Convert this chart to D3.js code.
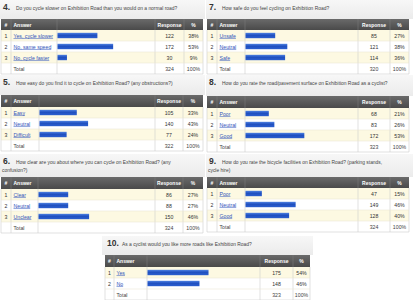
<!DOCTYPE html>
<html>
<head>
<meta charset="utf-8">
<script src="https://cdn.jsdelivr.net/npm/d3@7"></script>
<style>
  body { margin: 0; background: #fff; }
  svg { display: block; }
</style>
</head>
<body>
<svg id="chart" width="413" height="300"></svg>
<script>
// survey answers
const q4Answers = ["Yes, cycle slower", "No, same speed", "No, cycle faster"];
const q4Counts = [122, 172, 30];
const q4Pcts = [38, 53, 9];
const q4Total = 324;

const q7Answers = ["Unsafe", "Neutral", "Safe"];
const q7Counts = [85, 121, 114];
const q7Pcts = [27, 38, 36];
const q7Total = 320;

const q5Answers = ["Easy", "Neutral", "Difficult"];
const q5Counts = [105, 140, 77];
const q5Pcts = [33, 43, 24];
const q5Total = 322;

const q8Answers = ["Poor", "Neutral", "Good"];
const q8Counts = [68, 83, 172];
const q8Pcts = [21, 26, 53];
const q8Total = 323;

const q6Answers = ["Clear", "Neutral", "Unclear"];
const q6Counts = [86, 88, 150];
const q6Pcts = [27, 27, 46];
const q6Total = 324;

const q9Answers = ["Poor", "Neutral", "Good"];
const q9Counts = [47, 149, 128];
const q9Pcts = [15, 46, 40];
const q9Total = 324;

const q10Answers = ["Yes", "No"];
const q10Counts = [175, 148];
const q10Pcts = [54, 46];
const q10Total = 323;

const questionNums = ["4.", "7.", "5.", "8.", "6.", "9.", "10."];
const questionTexts = [
  ["Do you cycle slower on Exhibition Road than you would on a normal road?"],
  ["How safe do you feel cycling on Exhibition Road?"],
  ["How easy do you find it to cycle on Exhibition Road? (any obstructions?)"],
  ["How do you rate the road/pavement surface on Exhibition Road as a cyclist?"],
  ["How clear are you about where you can cycle on Exhibition Road? (any", "confusion?)"],
  ["How do you rate the bicycle facilities on Exhibition Road? (parking stands,", "cycle hire)"],
  ["As a cyclist would you like more roads like Exhibition Road?"]
];
const headerLabels = ["#", "Answer", "", "Response", "%"];

let svg = d3.select("#chart");
let font = "'Liberation Sans', Arial, sans-serif";

let defs = svg.append("defs");
let barGrad = defs.append("linearGradient").attr("id", "barGrad")
  .attr("x1", 0).attr("y1", 0).attr("x2", 0).attr("y2", 1);
barGrad.append("stop").attr("offset", "0%").attr("stop-color", "#4f82e2");
barGrad.append("stop").attr("offset", "45%").attr("stop-color", "#1f4fbf");
barGrad.append("stop").attr("offset", "100%").attr("stop-color", "#2c5fcf");
let headGrad = defs.append("linearGradient").attr("id", "headGrad")
  .attr("x1", 0).attr("y1", 0).attr("x2", 0).attr("y2", 1);
headGrad.append("stop").attr("offset", "0%").attr("stop-color", "#6a6a6a");
headGrad.append("stop").attr("offset", "100%").attr("stop-color", "#4a4a4a");
let titleGrad = defs.append("linearGradient").attr("id", "titleGrad")
  .attr("x1", 0).attr("y1", 0).attr("x2", 0).attr("y2", 1);
titleGrad.append("stop").attr("offset", "0%").attr("stop-color", "#f7f7f7");
titleGrad.append("stop").attr("offset", "100%").attr("stop-color", "#ebebeb");

// layout of each panel: cols = column edges in px
let panels = [
  {left: 0, right: 205, top: 0, headY: 19, headH: 11, rowH: 11, cols: [1, 11, 57, 155, 184, 203], k: 1.05,
   answers: q4Answers, counts: q4Counts, pcts: q4Pcts, total: q4Total},
  {left: 206, right: 413, top: 0, headY: 19, headH: 11, rowH: 11, cols: [207, 217, 245, 358, 390, 409], k: 1.1,
   answers: q7Answers, counts: q7Counts, pcts: q7Pcts, total: q7Total},
  {left: 0, right: 205, top: 75, headY: 95, headH: 12, rowH: 11, cols: [1, 11, 39, 155, 183, 203], k: 1.13,
   answers: q5Answers, counts: q5Counts, pcts: q5Pcts, total: q5Total},
  {left: 206, right: 413, top: 75, headY: 96, headH: 12, rowH: 11, cols: [207, 217, 245, 358, 390, 409], k: 1.11,
   answers: q8Answers, counts: q8Counts, pcts: q8Pcts, total: q8Total},
  {left: 0, right: 205, top: 154, headY: 177, headH: 12, rowH: 11, cols: [1, 11, 38, 155, 183, 203], k: 1.1,
   answers: q6Answers, counts: q6Counts, pcts: q6Pcts, total: q6Total},
  {left: 206, right: 413, top: 154, headY: 177, headH: 11, rowH: 11, cols: [207, 217, 245, 358, 390, 409], k: 1.09,
   answers: q9Answers, counts: q9Counts, pcts: q9Pcts, total: q9Total},
  {left: 102, right: 313, top: 236, headY: 255, headH: 12, rowH: 11, cols: [105, 114, 147, 260, 293, 310], k: 1.13,
   answers: q10Answers, counts: q10Counts, pcts: q10Pcts, total: q10Total}
];

panels.forEach(function(p, i) {
  let g = svg.append("g");
  let cols = p.cols;
  let n = p.answers.length + 1;

  // title strip
  g.append("rect")
    .attr("x", p.left).attr("y", p.top)
    .attr("width", p.right - p.left).attr("height", p.headY - p.top)
    .attr("fill", "url(#titleGrad)");

  let lines = questionTexts[i];
  let numY = p.top + 10;
  g.append("text")
    .attr("x", cols[0] + 2).attr("y", numY)
    .text(questionNums[i])
    .style("font-family", font).style("font-size", "8.5px").style("font-weight", "bold")
    .style("fill", "#333");
  lines.forEach(function(l, j) {
    g.append("text")
      .attr("x", j == 0 ? cols[0] + (questionNums[i].length > 2 ? 17 : 15) : cols[0] + 1)
      .attr("y", numY - 0.5 + j * 8)
      .text(l)
      .style("font-family", font).style("font-size", "4.9px")
      .style("fill", "#444");
  });

  // header row
  g.append("rect")
    .attr("x", cols[0]).attr("y", p.headY)
    .attr("width", cols[5] - cols[0]).attr("height", p.headH)
    .attr("fill", "url(#headGrad)");
  headerLabels.forEach(function(h, j) {
    if (h == "") return;
    let centered = (j != 1);
    g.append("text")
      .attr("x", centered ? (cols[j] + cols[j + 1]) / 2 : cols[j] + 2.5)
      .attr("y", p.headY + p.headH / 2 + 2)
      .attr("text-anchor", centered ? "middle" : "start")
      .text(h)
      .style("font-family", font).style("font-size", "5px").style("font-weight", "bold")
      .style("fill", "#fff");
  });
  for (let j = 1; j < 5; j++) {
    g.append("line")
      .attr("x1", cols[j]).attr("x2", cols[j])
      .attr("y1", p.headY).attr("y2", p.headY + p.headH)
      .attr("stroke", "#7a7a7a").attr("stroke-width", 0.6);
  }

  // body rows
  let rowIdx = d3.range(n);
  let y = d3.scaleBand()
    .domain(rowIdx)
    .range([p.headY + p.headH, p.headY + p.headH + p.rowH * n]);
  let x = d3.scaleLinear()
    .domain([0, 100])
    .range([cols[2] + 0.5, cols[2] + 0.5 + 100 * p.k]);

  g.selectAll(".rowBg")
    .data(rowIdx)
    .enter()
    .append("rect")
    .attr("x", cols[0]).attr("y", d => y(d))
    .attr("width", cols[5] - cols[0]).attr("height", y.bandwidth())
    .attr("fill", d => (d % 2 == 0 && d < n - 1) ? "#fdf9e2" : "#ffffff");

  // grid lines
  let bodyTop = y.range()[0], bodyBot = y.range()[1];
  cols.forEach(function(c) {
    g.append("line")
      .attr("x1", c).attr("x2", c)
      .attr("y1", bodyTop).attr("y2", bodyBot)
      .attr("stroke", "#cfcfcf").attr("stroke-width", 0.6);
  });
  rowIdx.forEach(function(d) {
    g.append("line")
      .attr("x1", cols[0]).attr("x2", cols[5])
      .attr("y1", y(d) + y.bandwidth()).attr("y2", y(d) + y.bandwidth())
      .attr("stroke", d == n - 1 ? "#cfcfcf" : "#ece8d6").attr("stroke-width", 0.6);
  });

  let dataRows = d3.range(p.answers.length);

  // bars
  g.selectAll(".bar")
    .data(dataRows)
    .enter()
    .append("rect")
    .attr("x", x(0))
    .attr("y", d => y(d) + y.bandwidth() / 2 - 2.7)
    .attr("width", d => x(p.pcts[d]) - x(0))
    .attr("height", 5.4)
    .attr("fill", "url(#barGrad)");

  // row number
  g.selectAll(".num")
    .data(dataRows)
    .enter()
    .append("text")
    .attr("x", (cols[0] + cols[1]) / 2)
    .attr("y", d => y(d) + y.bandwidth() / 2 + 2)
    .attr("text-anchor", "middle")
    .text(d => d + 1)
    .style("font-family", font).style("font-size", "5.2px").style("fill", "#333");

  // answer links
  g.selectAll(".ans")
    .data(dataRows)
    .enter()
    .append("text")
    .attr("x", cols[1] + 2.5)
    .attr("y", d => y(d) + y.bandwidth() / 2 + 2)
    .text(d => p.answers[d])
    .style("font-family", font).style("font-size", "5.2px")
    .style("fill", "#3356bb").style("text-decoration", "underline");

  // response and percent
  g.selectAll(".cnt")
    .data(dataRows)
    .enter()
    .append("text")
    .attr("x", (cols[3] + cols[4]) / 2)
    .attr("y", d => y(d) + y.bandwidth() / 2 + 2)
    .attr("text-anchor", "middle")
    .text(d => p.counts[d])
    .style("font-family", font).style("font-size", "5.2px").style("fill", "#333");
  g.selectAll(".pct")
    .data(dataRows)
    .enter()
    .append("text")
    .attr("x", (cols[4] + cols[5]) / 2)
    .attr("y", d => y(d) + y.bandwidth() / 2 + 2)
    .attr("text-anchor", "middle")
    .text(d => p.pcts[d] + "%")
    .style("font-family", font).style("font-size", "5.2px").style("fill", "#333");

  // total row
  let ty = y(n - 1) + y.bandwidth() / 2 + 2;
  [["Total", cols[1] + 2.5, "start"],
   [p.total, (cols[3] + cols[4]) / 2, "middle"],
   ["100%", (cols[4] + cols[5]) / 2, "middle"]].forEach(function(t) {
    g.append("text")
      .attr("x", t[1]).attr("y", ty)
      .attr("text-anchor", t[2])
      .text(t[0])
      .style("font-family", font).style("font-size", "5.2px").style("fill", "#444");
  });
});
</script>
</body>
</html>
